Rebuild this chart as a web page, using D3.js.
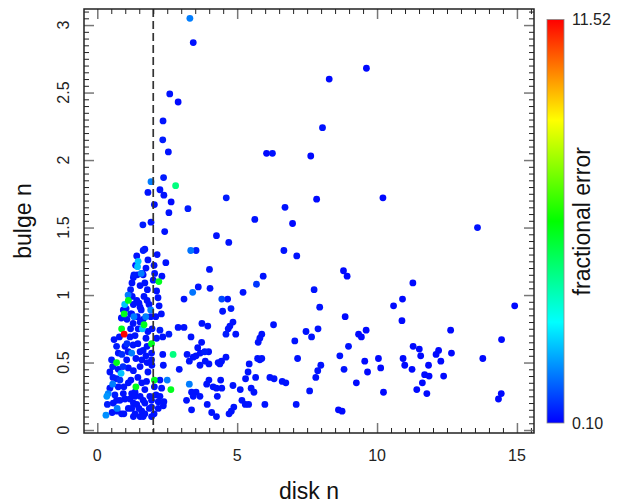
<!DOCTYPE html>
<html><head><meta charset="utf-8">
<script src="https://cdn.jsdelivr.net/npm/d3@7"></script>
<style>body{margin:0;background:#fff}svg{display:block;font-family:"Liberation Sans",Arial,Helvetica,sans-serif}</style>
</head><body><svg id="c" width="621" height="504"></svg>
<script>
// ---- data ----
const diskN = [
3.31,3.43,2.59,2.89,2.35,2.34,2.54,6.05,6.26,7.63,
8.29,9.62,8.05,7.84,10.21,13.59,2.37,1.92,2.80,1.81,
2.24,2.38,4.61,2.04,2.64,6.71,3.24,2.56,5.63,1.92,
1.63,6.98,2.41,4.26,4.70,3.34,3.53,2.45,2.31,4.01,
4.03,3.61,3.41,3.10,4.45,4.66,4.48,4.78,5.21,5.69,
4.85,4.74,4.68,4.60,4.95,3.74,3.95,2.89,3.10,3.35,
3.73,3.59,2.56,2.34,2.71,3.21,3.53,3.68,3.84,3.98,
3.43,3.29,3.67,3.86,3.99,4.32,4.44,4.60,4.38,5.43,
2.93,2.34,2.36,5.39,5.30,5.73,2.50,2.63,3.29,3.99,
3.91,4.41,4.14,4.26,4.45,4.85,5.11,3.37,3.53,3.67,
3.43,3.19,4.29,3.93,3.37,2.36,5.17,5.29,5.41,5.50,
5.60,4.88,4.79,4.71,4.09,4.26,2.24,6.67,7.13,5.93,
8.80,8.93,7.75,7.95,8.86,10.59,6.30,5.88,5.81,5.75,
7.46,7.66,7.89,7.06,9.34,9.44,9.61,8.98,5.81,5.88,
7.16,8.67,9.56,10.05,10.13,7.99,7.88,7.81,8.82,9.66,
5.66,6.17,6.32,6.61,6.74,9.26,10.23,7.59,5.99,7.11,
8.62,8.75,11.28,10.91,14.92,10.89,12.63,14.45,11.29,11.51,
11.56,10.93,10.99,11.25,12.20,12.11,12.28,12.66,11.84,11.70,
11.86,12.38,11.62,11.42,11.78,13.78,14.44,14.34,1.70,1.64,
1.41,1.46,2.14,1.44,1.37,2.03,1.31,1.43,1.61,1.57,
1.29,1.64,2.05,2.20,2.00,1.79,2.12,1.19,1.10,1.25,
1.41,1.49,1.11,0.98,1.29,1.91,2.21,1.57,0.93,0.96,
1.19,1.31,1.43,0.86,1.91,2.29,1.67,1.96,1.53,1.23,
1.64,2.09,1.73,0.87,0.96,0.79,1.17,1.35,1.46,1.61,
1.94,2.12,0.60,0.69,0.75,0.99,1.23,1.53,1.64,0.51,
0.69,1.05,1.59,1.94,1.94,1.95,0.55,0.45,0.75,0.85,
1.11,1.29,0.69,0.55,0.75,1.11,1.38,1.59,1.76,2.04,
2.04,2.24,2.30,0.39,0.34,0.63,0.93,1.23,1.35,1.35,
0.69,0.99,1.29,1.41,1.64,1.53,1.88,1.94,2.24,2.18,
0.36,0.57,0.71,0.87,1.11,1.23,1.35,1.59,1.70,1.86,
1.94,2.18,0.31,0.71,0.95,1.29,1.53,1.64,1.94,2.03,
1.19,2.38,1.06,1.28,1.45,1.74,1.78,0.88,1.10,1.38,
1.74,0.81,0.95,1.20,1.45,1.70,1.81,1.53,1.78,0.92,
0.56,0.45,0.53,1.49,2.10,1.70,1.17,0.81,1.24,1.70,
1.53,1.78,1.67,1.85,2.17,1.06,1.28,1.53,1.81,1.03,
1.74,1.81
];
const bulgeN = [
3.05,2.87,2.49,2.43,2.29,2.15,2.06,2.05,2.05,2.03,
2.60,2.68,2.24,1.71,1.72,1.50,1.87,1.84,1.81,1.76,
1.78,1.74,1.72,1.67,1.69,1.65,1.64,1.61,1.56,1.54,
1.52,1.53,1.47,1.44,1.39,1.33,1.33,1.24,1.14,1.19,
1.05,1.06,1.02,0.97,0.97,0.97,0.88,0.90,1.02,1.08,
0.80,0.77,0.75,0.71,0.71,0.79,0.77,0.76,0.76,0.69,
0.65,0.61,0.71,0.69,0.56,0.56,0.55,0.57,0.58,0.58,
0.54,0.51,0.48,0.51,0.49,0.50,0.51,0.54,0.49,0.49,
0.45,0.56,0.48,0.43,0.38,0.53,0.37,0.30,0.34,0.37,
0.34,0.37,0.32,0.31,0.31,0.33,0.30,0.28,0.28,0.25,
0.25,0.22,0.25,0.19,0.15,0.18,0.22,0.19,0.19,0.31,
0.28,0.17,0.14,0.12,0.13,0.10,0.74,1.33,1.29,1.14,
1.18,1.14,1.04,0.91,0.84,0.92,0.78,0.71,0.68,0.65,
0.73,0.69,0.75,0.66,0.71,0.69,0.74,0.62,0.52,0.53,
0.53,0.55,0.51,0.53,0.46,0.48,0.44,0.39,0.45,0.43,
0.39,0.39,0.38,0.36,0.35,0.35,0.28,0.29,0.19,0.19,
0.15,0.14,1.09,0.97,0.92,0.81,0.74,0.67,0.62,0.60,
0.55,0.53,0.48,0.45,0.59,0.56,0.51,0.57,0.48,0.41,
0.40,0.40,0.35,0.30,0.27,0.53,0.27,0.23,1.34,1.33,
1.29,1.25,1.30,1.21,1.22,1.22,1.15,1.15,1.16,1.16,
1.13,1.15,1.16,1.10,1.11,1.04,1.03,1.04,1.00,0.99,
0.96,0.94,0.96,0.93,0.93,0.89,0.92,0.89,0.89,0.86,
0.86,0.84,0.84,0.83,0.84,0.86,0.78,0.75,0.91,0.86,
0.82,0.84,0.84,0.75,0.71,0.69,0.69,0.70,0.75,0.75,
0.64,0.68,0.67,0.62,0.57,0.62,0.57,0.58,0.59,0.52,
0.50,0.52,0.52,0.57,0.52,0.48,0.47,0.43,0.45,0.42,
0.46,0.44,0.38,0.34,0.32,0.35,0.32,0.35,0.36,0.37,
0.32,0.37,0.31,0.27,0.25,0.26,0.27,0.27,0.28,0.25,
0.22,0.23,0.20,0.19,0.22,0.25,0.25,0.22,0.25,0.21,
0.19,0.20,0.16,0.12,0.16,0.16,0.12,0.14,0.12,0.16,
0.17,0.16,0.11,0.14,0.12,0.10,0.10,0.10,0.10,0.12,
0.75,0.21,0.64,0.63,0.64,0.68,0.62,0.56,0.58,0.53,
0.55,0.37,0.32,0.37,0.39,0.30,0.43,0.47,0.50,0.47,
0.39,0.31,0.13,0.16,0.26,0.20,0.23,0.22,1.09,1.09,
1.07,0.96,0.99,0.93,0.98,0.82,0.79,0.80,0.73,0.90,
1.20,1.26
];
const fracErr = [
1.5,0.3,0.3,0.2,0.3,0.4,0.3,0.2,0.3,0.2,
0.2,0.2,0.3,0.2,0.2,0.3,0.4,1.5,4.4,0.3,
0.3,0.3,0.4,0.3,0.2,0.3,0.4,0.3,0.3,0.3,
0.4,0.2,0.3,0.3,0.3,1.4,0.4,0.3,0.3,0.3,
0.3,0.3,1.4,0.3,0.9,0.3,0.3,0.4,0.3,0.7,
0.3,0.3,0.3,0.4,0.3,0.3,0.3,0.3,0.3,0.3,
0.3,0.3,0.4,0.3,4.4,0.3,0.3,0.3,0.4,0.3,
0.3,0.3,0.3,0.3,0.3,0.3,0.3,0.3,0.3,0.3,
0.3,0.3,0.3,0.3,0.3,0.3,1.5,5.5,1.5,0.3,
0.3,0.3,0.3,0.3,0.3,0.3,0.3,0.3,0.3,0.3,
0.3,0.3,0.3,0.3,0.3,0.3,0.3,0.3,0.3,0.3,
0.3,0.3,0.3,0.3,0.3,0.3,0.4,0.3,0.3,0.3,
0.2,0.2,0.3,0.3,0.2,0.2,0.3,0.3,0.3,0.3,
0.3,0.3,0.3,0.3,0.2,0.2,0.2,0.3,0.3,0.3,
0.3,0.3,0.2,0.2,0.2,0.3,0.3,0.3,0.3,0.2,
0.3,0.3,0.3,0.3,0.3,0.2,0.2,0.3,0.3,0.3,
0.2,0.2,0.2,0.2,0.2,0.2,0.2,0.2,0.2,0.2,
0.2,0.2,0.2,0.2,0.2,0.2,0.2,0.2,0.2,0.2,
0.2,0.2,0.2,0.2,0.2,0.2,0.2,0.2,0.3,0.4,
0.3,2.3,0.3,2.3,0.3,0.3,0.4,0.3,0.3,1.5,
0.3,0.3,0.3,5.5,0.3,0.3,0.3,0.4,1.5,0.3,
0.3,0.3,5.5,2.3,0.3,1.5,0.3,0.3,0.3,5.5,
0.3,1.5,0.3,0.3,0.3,0.3,5.5,0.3,0.3,0.3,
0.3,0.3,1.5,5.5,11.52,0.3,0.3,0.3,0.3,2.3,
5.5,0.3,0.3,0.4,0.3,0.3,1.5,0.3,0.3,0.4,
5.5,0.3,0.3,0.3,0.3,0.3,0.4,0.3,0.3,2.3,
0.3,0.3,0.4,1.5,0.3,0.3,5.5,0.3,0.3,5.5,
0.3,0.3,0.3,1.6,1.8,0.4,0.3,0.3,0.3,0.3,
0.3,0.3,0.3,0.3,0.3,0.3,0.3,0.3,0.3,0.3,
0.4,0.3,1.5,0.3,0.3,0.3,0.3,0.3,0.3,0.3,
0.3,0.3,1.7,0.3,0.3,0.3,0.3,0.3,0.3,0.3,
0.3,0.3,0.6,0.3,0.3,0.3,0.3,0.6,0.3,0.3,
0.3,0.6,0.3,0.3,0.3,0.3,0.3,0.3,0.3,0.6,
0.4,0.3,0.3,0.3,0.3,0.3,0.3,0.3,0.3,0.3,
0.3,0.3,0.3,0.3,0.3,0.3,0.3,0.3,0.3,0.3,
0.3,0.3
];
const xTickValues = [0, 5, 10, 15];
const yTickValues = [0, 0.5, 1, 1.5, 2, 2.5, 3];
const yTickLabels = ["0", "0.5", "1", "1.5", "2", "2.5", "3"];
const errRange = [0.10, 11.52];
const errLabels = ["0.10", "11.52"];
const diskCut = 2;
const xTitle = "disk n", yTitle = "bulge n", cTitle = "fractional error";

// ---- layout ----
const svg = d3.select("#c");
const L = 84, R = 534, T = 9, B = 433;
const x = d3.scaleLinear().domain([-0.475, 15.61]).range([L, R]);
const y = d3.scaleLinear().domain([-0.022, 3.119]).range([B, T]);
const hue = d3.scaleLinear().domain(errRange).range([240, 0]);
const col = v => d3.hsl(hue(Math.min(Math.max(v, errRange[0]), errRange[1])), 1, 0.5).formatHex();

const pts = diskN.map((d, i) => ({x: d, y: bulgeN[i], e: fracErr[i] ?? 0.3}))
  .sort((a, b) => a.e - b.e);

// points
svg.append("g").selectAll("circle").data(pts).join("circle")
  .attr("cx", d => x(d.x)).attr("cy", d => y(d.y)).attr("r", 3.4)
  .attr("fill", d => col(d.e));

// dashed cut line
svg.append("line")
  .attr("x1", x(diskCut)).attr("x2", x(diskCut)).attr("y1", T).attr("y2", B)
  .attr("stroke", "#333").attr("stroke-width", 1.7).attr("stroke-dasharray", "8,4");

// ticks (inward on all four sides)
const xMinor = d3.range(0, 15.51, 0.5).filter(v => !xTickValues.includes(v));
const yMinor = d3.range(0, 3.101, 0.05).map(v => +v.toFixed(2)).filter(v => !yTickValues.includes(v));
function tickSet(gen, vals, size, tr, stroke, w) {
  const g = svg.append("g").attr("transform", tr)
    .call(gen.tickValues(vals).tickSizeInner(size).tickSizeOuter(0).tickFormat(""));
  g.select(".domain").remove();
  g.selectAll("line").attr("stroke", stroke).attr("stroke-width", w);
  g.selectAll("text").remove();
}
tickSet(d3.axisBottom(x), xMinor, -5, `translate(0,${B})`, "#222", 1);
tickSet(d3.axisTop(x), xMinor, -5, `translate(0,${T})`, "#222", 1);
tickSet(d3.axisBottom(x), xTickValues, -10, `translate(0,${B})`, "#777", 1.5);
tickSet(d3.axisTop(x), xTickValues, -10, `translate(0,${T})`, "#777", 1.5);
tickSet(d3.axisLeft(y), yMinor, -5, `translate(${L},0)`, "#222", 1);
tickSet(d3.axisRight(y), yMinor, -5, `translate(${R},0)`, "#222", 1);
tickSet(d3.axisLeft(y), yTickValues, -10, `translate(${L},0)`, "#777", 1.5);
tickSet(d3.axisRight(y), yTickValues, -10, `translate(${R},0)`, "#777", 1.5);

// frame
svg.append("rect").attr("x", L).attr("y", T).attr("width", R - L).attr("height", B - T)
  .attr("fill", "none").attr("stroke", "#222").attr("stroke-width", 1.5);

// tick labels
svg.append("g").selectAll("text").data(xTickValues).join("text")
  .attr("x", d => x(d)).attr("y", 461).attr("text-anchor", "middle")
  .attr("font-size", 16).attr("fill", "#222").text(d => String(d));
svg.append("g").selectAll("text").data(yTickValues).join("text")
  .attr("transform", d => `translate(69,${y(d)}) rotate(-90)`).attr("text-anchor", "middle")
  .attr("font-size", 16).attr("fill", "#222").text((d, i) => yTickLabels[i]);

// axis titles
svg.append("text").attr("x", (L + R) / 2).attr("y", 499).attr("text-anchor", "middle")
  .attr("font-size", 23).attr("fill", "#111").text(xTitle);
svg.append("text").attr("transform", `translate(31,${(T + B) / 2}) rotate(-90)`).attr("text-anchor", "middle")
  .attr("font-size", 23).attr("fill", "#111").text(yTitle);

// colour bar
const defs = svg.append("defs");
const grad = defs.append("linearGradient").attr("id", "cb").attr("x1", 0).attr("y1", 1).attr("x2", 0).attr("y2", 0);
d3.range(0, 1.0001, 0.05).forEach(t => {
  const v = errRange[0] + t * (errRange[1] - errRange[0]);
  grad.append("stop").attr("offset", t).attr("stop-color", col(v));
});
const cbY = d3.scaleLinear().domain(errRange).range([423, 19.5]);
svg.append("rect").attr("x", 547).attr("y", cbY(errRange[1])).attr("width", 17)
  .attr("height", cbY(errRange[0]) - cbY(errRange[1]))
  .attr("fill", "url(#cb)").attr("stroke", "#888").attr("stroke-width", 0.8);
svg.append("g").selectAll("text").data(errRange).join("text")
  .attr("x", 572).attr("y", d => cbY(d) + 5.5).attr("font-size", 16).attr("fill", "#222")
  .text((d, i) => errLabels[i]);
svg.append("text").attr("transform", `translate(590,${(cbY(errRange[0]) + cbY(errRange[1])) / 2}) rotate(-90)`)
  .attr("text-anchor", "middle").attr("font-size", 23).attr("fill", "#111").text(cTitle);
</script></body></html>
